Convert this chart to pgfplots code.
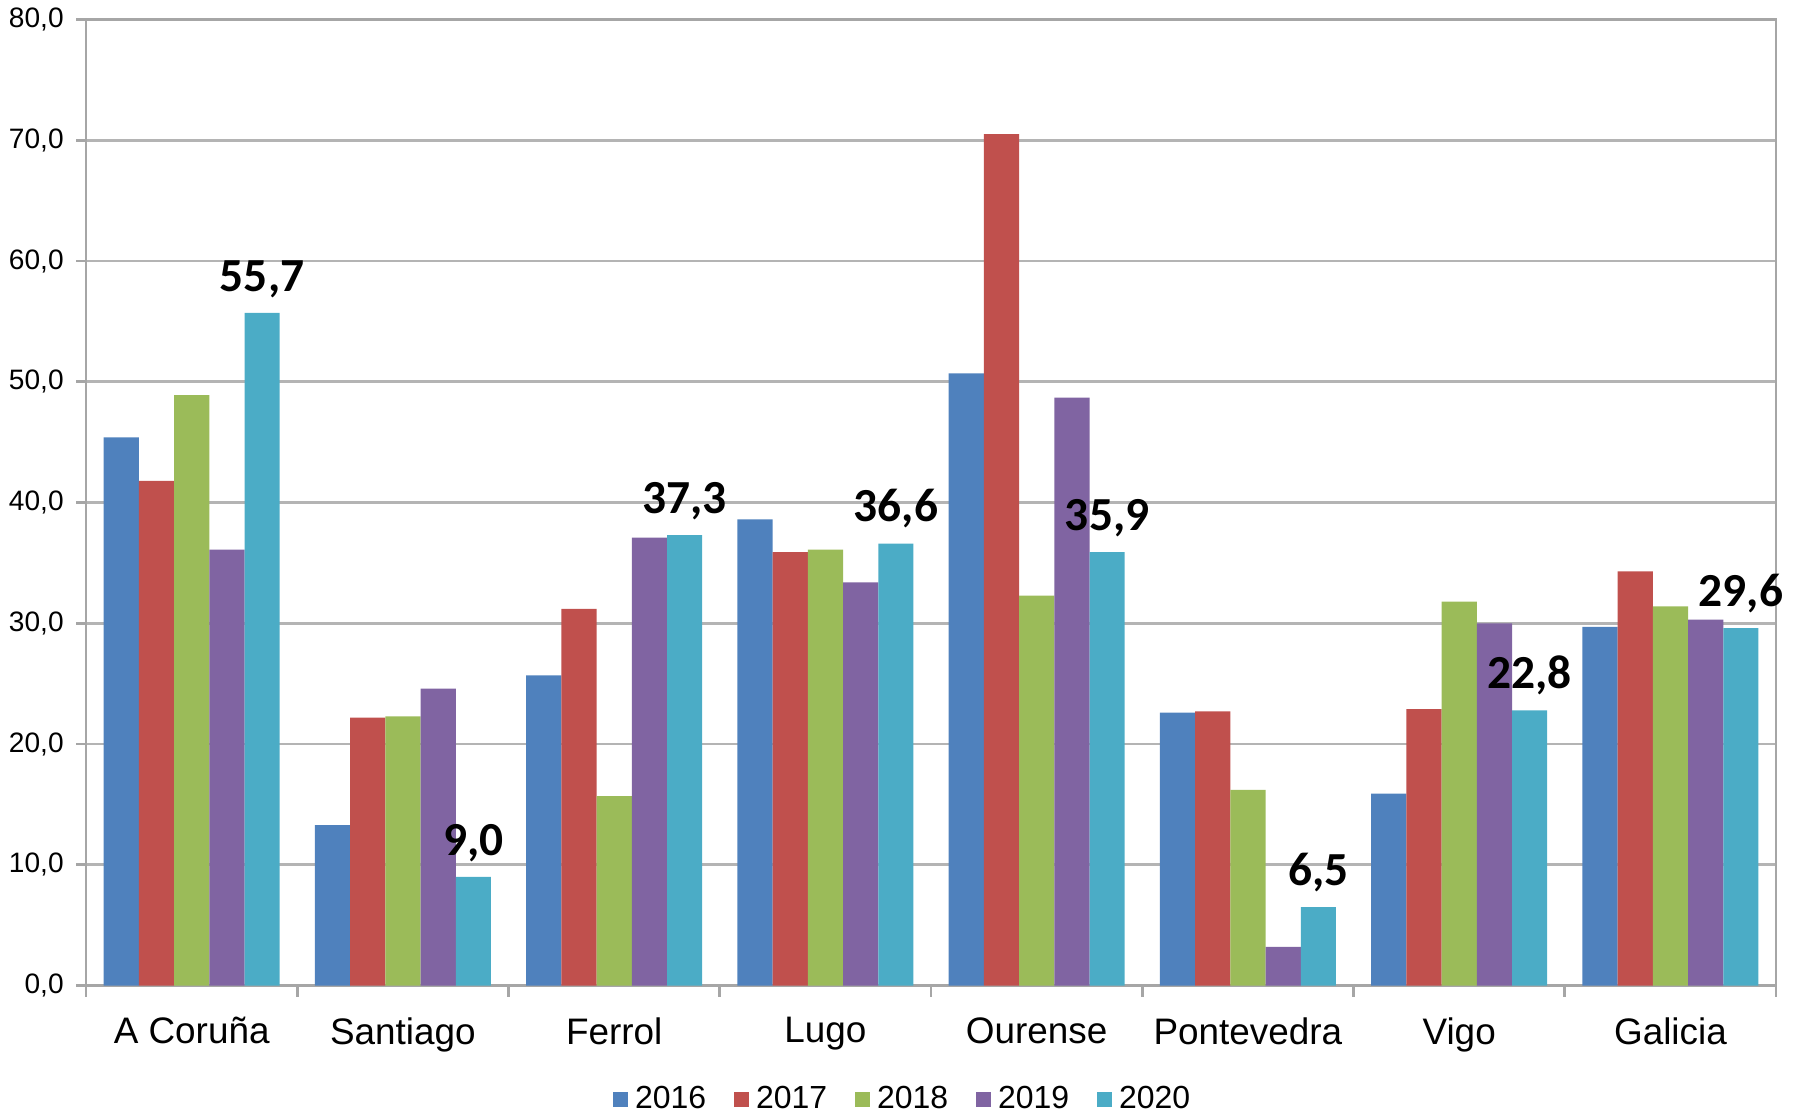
\documentclass[border=0pt]{standalone}
\usepackage{fontspec}
\setmainfont{Liberation Sans}
\newfontfamily\labfont{Carlito}
\usepackage{pgfplots}
\pgfplotsset{compat=1.18}
\definecolor{c16}{HTML}{4F81BD}
\definecolor{c17}{HTML}{C0504D}
\definecolor{c18}{HTML}{9BBB59}
\definecolor{c19}{HTML}{8064A2}
\definecolor{c20}{HTML}{4BACC6}
\definecolor{gridc}{HTML}{B4B4B4}
\definecolor{axisc}{HTML}{A6A6A6}

\begin{document}
\begin{tikzpicture}
\begin{axis}[
  name=ax,
  scale only axis,
  width=16.909cm, height=9.666cm,
  ybar=0pt, bar width=0.1667,
  xmin=-0.5, xmax=7.5,
  ymin=0, ymax=80,
  ytick={0,10,...,80},
  xtick={0,...,7},
  xticklabels={A Coruña,Santiago,Ferrol,Lugo,Ourense,Pontevedra,Vigo,Galicia},
  minor xtick={-0.5,0.5,...,7.5},
  major x tick style={draw=none},
  minor x tick style={draw=axisc, thick},
  ytick style={draw=axisc, thick},
  tick align=outside,
  major tick length=0.1cm,
  minor tick length=0.11cm,
  xtick pos=bottom, ytick pos=left,
  axis line style={draw=axisc, thick},
  ymajorgrids, grid style={draw=gridc, thick},
  yticklabel style={font=\fontsize{8}{9}\selectfont,
    /pgf/number format/.cd, fixed, fixed zerofill, precision=1, use comma, assume math mode=true},
  xticklabel style={font=\fontsize{10.5}{12}\selectfont, yshift=-2.7pt},
  clip=false,
  legend columns=5,
  legend style={at={(rel axis cs:0.4847,-0.118)}, anchor=center, draw=none,
    font=\fontsize{9.1}{10}\selectfont,
    /tikz/every even column/.append style={column sep=6pt}},
  legend image code/.code={\fill[#1] (0pt,-2.1pt) rectangle (4.2pt,2.1pt);},
]
% 2016
\addplot[fill=c16, draw=none] coordinates {
  (0,45.4) (1,13.3) (2,25.7) (3,38.6) (4,50.7) (5,22.6) (6,15.9) (7,29.7)};
% 2017
\addplot[fill=c17, draw=none] coordinates {
  (0,41.8) (1,22.2) (2,31.2) (3,35.9) (4,70.5) (5,22.7) (6,22.9) (7,34.3)};
% 2018
\addplot[fill=c18, draw=none] coordinates {
  (0,48.9) (1,22.3) (2,15.7) (3,36.1) (4,32.3) (5,16.2) (6,31.8) (7,31.4)};
% 2019
\addplot[fill=c19, draw=none] coordinates {
  (0,36.1) (1,24.6) (2,37.1) (3,33.4) (4,48.7) (5,3.2) (6,30.0) (7,30.3)};
% 2020, labelled
\addplot[fill=c20, draw=none,
  nodes near coords={\pgfmathprintnumber[fixed,fixed zerofill,precision=1,use comma,assume math mode=true]{\pgfplotspointmeta}},
  every node near coord/.append style={font=\labfont\bfseries\fontsize{13.5}{15}\selectfont, text=black, yshift=0.8pt}]
  coordinates {
  (0,55.7) (1,9.0) (2,37.3) (3,36.6) (4,35.9) (5,6.5) (6,22.8) (7,29.6)};
\legend{2016,2017,2018,2019,2020}
\end{axis}
\pgfresetboundingbox
\path (ax.south west) ++(-0.861cm,-1.2628cm) coordinate (bb1);
\path (ax.north east) ++(0.2296cm,0.1952cm) coordinate (bb2);
\useasboundingbox (bb1) rectangle (bb2);
\end{tikzpicture}
\end{document}
